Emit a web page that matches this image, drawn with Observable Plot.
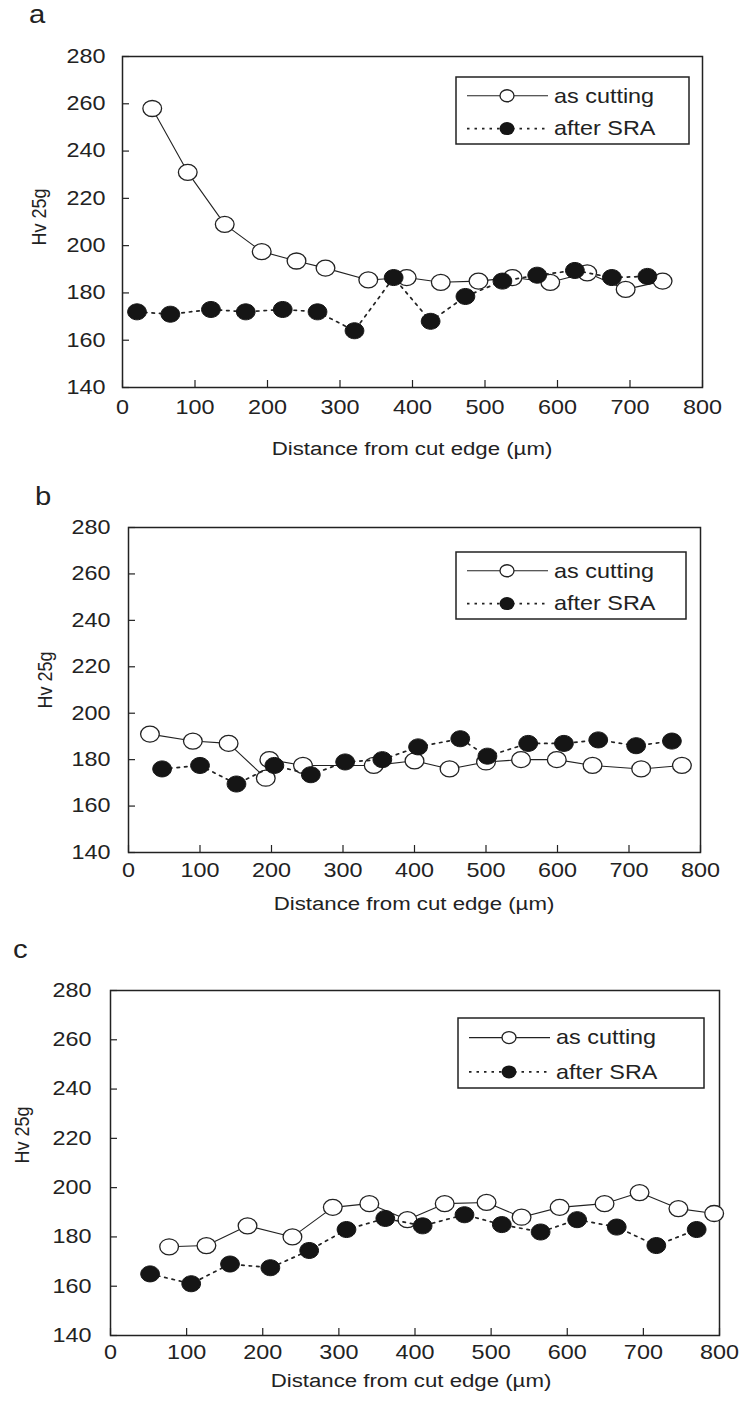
<!DOCTYPE html>
<html><head><meta charset="utf-8">
<script src="https://cdn.jsdelivr.net/npm/d3@7"></script>
<script src="https://cdn.jsdelivr.net/npm/@observablehq/plot@0.6"></script>
<style>
html,body{margin:0;padding:0;background:#fff;}
#root{position:relative;width:744px;height:1410px;overflow:hidden;font-family:"Liberation Sans",Arial,Helvetica,sans-serif;color:#222;}
#root svg{position:absolute;left:0;}
</style></head>
<body><div id="root"></div>
<script>
// ---------- data ----------
const xTicks = [0, 100, 200, 300, 400, 500, 600, 700, 800];
const yTicks = [140, 160, 180, 200, 220, 240, 260, 280];
const seriesNames = ["as cutting", "after SRA"];
const panelLetters = ["a", "b", "c"];
const xTitle = "Distance from cut edge  (\u00b5m)";
const yTitle = "Hv 25g";

// panel a
const aCutX = [41, 90, 141, 192, 240, 280, 339, 392, 439, 491, 538, 590, 641, 694, 745];
const aCutY = [258, 231, 209, 197.5, 193.5, 190.5, 185.5, 186.5, 184.5, 185, 186.5, 184.5, 188.5, 181.5, 185];
const aSraX = [20, 66, 122, 170, 221, 269, 320, 374, 425, 473, 524, 572, 624, 675, 724];
const aSraY = [172, 171, 173, 172, 173, 172, 164, 186.5, 168, 178.5, 185, 187.5, 189.5, 186.5, 187];

// panel b
const bCutX = [30, 90, 140, 192, 197, 244, 343, 400, 449, 500, 549, 599, 649, 717, 774];
const bCutY = [191, 188, 187, 172, 180, 177.5, 177.5, 179.5, 176, 179, 180, 180, 177.5, 176, 177.5];
const bSraX = [47, 100, 151, 204, 255, 303, 355, 405, 464, 502, 559, 609, 657, 710, 760];
const bSraY = [176, 177.5, 169.5, 177.5, 173.5, 179, 180, 185.5, 189, 181.5, 187, 187, 188.5, 186, 188];

// panel c
const cCutX = [77, 126, 180, 239, 292, 340, 390, 439, 494, 540, 590, 649, 695, 746, 793];
const cCutY = [176, 176.5, 184.5, 180, 192, 193.5, 187, 193.5, 194, 188, 192, 193.5, 198, 191.5, 189.5];
const cSraX = [52, 106, 157, 210, 261, 310, 361, 410, 465, 514, 565, 613, 665, 717, 770];
const cSraY = [165, 161, 169, 167.5, 174.5, 183, 187.5, 184.5, 189, 185, 182, 187, 184, 176.5, 183];

// ---------- style / layout (page pixels) ----------
const INK = "#222";
const DOTINK = "#151515";
const FONT = "'Liberation Sans', Arial, Helvetica, sans-serif";
const SX = 1.17; // the scanned figure is stretched horizontally
const panels = [
  {letter: panelLetters[0], cutX: aCutX, cutY: aCutY, sraX: aSraX, sraY: aSraY,
   top: 0, height: 470, frame: {l: 122, r: 702, t: 56, b: 387}, xPad: 12, yPad: 17,
   letterPos: [29, 23], xTitlePos: [412, 448], yTitlePos: [38, 217], legend: {l: 456, t: 77, w: 233, h: 67}},
  {letter: panelLetters[1], cutX: bCutX, cutY: bCutY, sraX: bSraX, sraY: bSraY,
   top: 470, height: 470, frame: {l: 128, r: 700, t: 527, b: 852}, xPad: 10, yPad: 18,
   letterPos: [35, 505], xTitlePos: [414, 903], yTitlePos: [44, 680], legend: {l: 456, t: 552, w: 230, h: 67}},
  {letter: panelLetters[2], cutX: cCutX, cutY: cCutY, sraX: cSraX, sraY: cSraY,
   top: 940, height: 470, frame: {l: 110, r: 719, t: 990, b: 1335}, xPad: 9, yPad: 19,
   letterPos: [13, 958], xTitlePos: [411, 1380], yTitlePos: [21, 1135], legend: {l: 458, t: 1018, w: 246, h: 70}}
];

// horizontally stretched circle, matching the scan
const ellipseSymbol = {
  draw(ctx, size) {
    const r = Math.sqrt(size / Math.PI), rx = r * SX, ry = r, k = 0.5523;
    ctx.moveTo(rx, 0);
    ctx.bezierCurveTo(rx, ry * k, rx * k, ry, 0, ry);
    ctx.bezierCurveTo(-rx * k, ry, -rx, ry * k, -rx, 0);
    ctx.bezierCurveTo(-rx, -ry * k, -rx * k, -ry, 0, -ry);
    ctx.bezierCurveTo(rx * k, -ry, rx, -ry * k, rx, 0);
    ctx.closePath();
  }
};

const root = document.getElementById("root");

function stretchTexts(svg) {
  d3.select(svg).selectAll("text").each(function () {
    let t = this.getAttribute("transform");
    if (!t) {
      const x = +(this.getAttribute("x") || 0), y = +(this.getAttribute("y") || 0);
      this.removeAttribute("x"); this.removeAttribute("y");
      t = `translate(${x},${y})`;
    }
    this.setAttribute("transform", `${t} scale(${SX},1)`);
  });
}

for (const p of panels) {
  const W = 744, H = p.height;
  const ml = p.frame.l, mr = W - p.frame.r, mt = p.frame.t - p.top, mb = p.top + H - p.frame.b;
  const fw = W - ml - mr, fh = H - mt - mb;
  const cut = p.cutX.map((x, i) => ({x, y: p.cutY[i]}));
  const sra = p.sraX.map((x, i) => ({x, y: p.sraY[i]}));
  const chart = Plot.plot({
    width: W, height: H,
    marginLeft: ml, marginRight: mr, marginTop: mt, marginBottom: mb,
    x: {domain: [0, 800]},
    y: {domain: [140, 280]},
    style: {fontFamily: FONT, fontSize: "20px", color: INK, background: "transparent", overflow: "visible"},
    marks: [
      Plot.tickY(yTicks, {y: d => d, stroke: INK, strokeWidth: 1.2, insetRight: fw - 7}),
      Plot.tickX(xTicks, {x: d => d, stroke: INK, strokeWidth: 1.2, insetTop: fh - 7}),
      Plot.frame({stroke: INK, strokeWidth: 1.5}),
      Plot.axisY({ticks: yTicks, tickSize: 0, tickPadding: p.yPad, label: null, fontSize: 20}),
      Plot.axisX({ticks: xTicks, tickSize: 0, tickPadding: p.xPad, label: null, fontSize: 20}),
      Plot.line(cut, {x: "x", y: "y", stroke: INK, strokeWidth: 1.1}),
      Plot.dot(cut, {x: "x", y: "y", r: 8, symbol: ellipseSymbol, fill: "white", stroke: INK, strokeWidth: 1.3}),
      Plot.line(sra, {x: "x", y: "y", stroke: INK, strokeWidth: 1.7, strokeDasharray: "2.5,5"}),
      Plot.dot(sra, {x: "x", y: "y", r: 8, symbol: ellipseSymbol, fill: DOTINK, stroke: DOTINK, strokeWidth: 1})
    ]
  });
  stretchTexts(chart);
  chart.style.top = p.top + "px";
  root.appendChild(chart);
}

// ---------- overlay: panel letters, axis titles, legends ----------
const ov = d3.select(root).append("svg")
  .attr("width", 744).attr("height", 1410)
  .style("top", "0px").style("pointer-events", "none")
  .attr("font-family", FONT).attr("fill", INK);

for (const p of panels) {
  ov.append("text")
    .attr("transform", `translate(${p.letterPos[0]},${p.letterPos[1]}) scale(${SX},1)`)
    .attr("font-size", 25).text(p.letter);
  ov.append("text")
    .attr("transform", `translate(${p.xTitlePos[0]},${p.xTitlePos[1]}) scale(${SX},1)`)
    .attr("font-size", 19).attr("text-anchor", "middle").attr("dominant-baseline", "central")
    .text(xTitle);
  ov.append("text")
    .attr("transform", `translate(${p.yTitlePos[0]},${p.yTitlePos[1]}) scale(${SX},1) rotate(-90)`)
    .attr("font-size", 18).attr("text-anchor", "middle").attr("dominant-baseline", "central")
    .text(yTitle);

  const L = p.legend;
  const g = ov.append("g").attr("transform", `translate(${L.l},${L.t})`);
  g.append("rect").attr("width", L.w).attr("height", L.h)
    .attr("fill", "white").attr("stroke", INK).attr("stroke-width", 1.5);
  const rows = [L.h * 0.28, L.h * 0.77];
  // as cutting
  g.append("line").attr("x1", 11).attr("x2", 92).attr("y1", rows[0]).attr("y2", rows[0])
    .attr("stroke", INK).attr("stroke-width", 1.1);
  g.append("ellipse").attr("cx", 51).attr("cy", rows[0]).attr("rx", 7).attr("ry", 6)
    .attr("fill", "white").attr("stroke", INK).attr("stroke-width", 1.3);
  // after SRA
  g.append("line").attr("x1", 11).attr("x2", 92).attr("y1", rows[1]).attr("y2", rows[1])
    .attr("stroke", INK).attr("stroke-width", 1.7).attr("stroke-dasharray", "2.5,5");
  g.append("ellipse").attr("cx", 51).attr("cy", rows[1]).attr("rx", 7.5).attr("ry", 6.5).attr("fill", DOTINK);
  seriesNames.forEach((name, i) => {
    g.append("text")
      .attr("transform", `translate(98,${rows[i]}) scale(${SX},1)`)
      .attr("font-size", 20).attr("dominant-baseline", "central").text(name);
  });
}
</script>
</body></html>
